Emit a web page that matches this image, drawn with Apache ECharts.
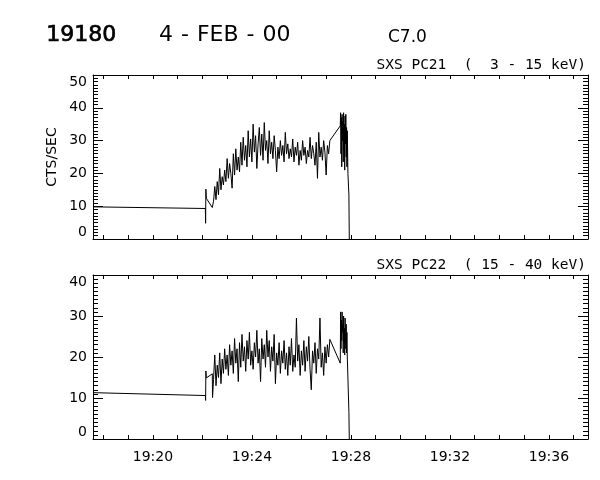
<!DOCTYPE html>
<html>
<head>
<meta charset="utf-8">
<script src="https://cdn.jsdelivr.net/npm/echarts@6/dist/echarts.min.js"></script>
<style>html,body{margin:0;padding:0;background:#fff}#c{width:600px;height:480px}</style>
</head>
<body>
<div id="c"></div>
<script>
// time in minutes after 19:00
const times = [17.58, 22.12, 22.13, 22.14, 22.16, 22.40, 22.41,
22.45,22.50,22.55,22.60,22.65,22.70,22.75,22.80,22.85,22.90,22.95,23.00,23.05,23.10,23.15,23.20,23.25,23.30,23.35,23.40,
23.45,23.50,23.55,23.60,23.65,23.70,23.75,23.80,23.85,23.90,23.95,24.00,24.05,24.10,24.15,24.20,24.25,24.30,24.35,24.40,
24.45,24.50,24.55,24.60,24.65,24.70,24.75,24.80,24.85,24.90,24.95,25.00,25.05,25.10,25.15,25.20,25.25,25.30,25.35,25.40,
25.45,25.50,25.55,25.60,25.65,25.70,25.75,25.80,25.85,25.90,25.95,26.00,26.05,26.10,26.15,26.20,26.25,26.30,26.35,26.40,
26.45,26.50,26.55,26.60,26.65,26.70,26.75,26.80,26.85,26.90,26.95,27.00,27.05,27.10,27.15,
27.570,27.585,27.600,27.615,27.630,27.645,27.660,27.675,27.690,27.705,27.720,27.735,27.750,27.765,27.780,27.795,27.810,27.825,27.840,27.855,
27.88, 27.92, 27.935];

const pc21 = [9.8, 9.3, 4.8, 15.2, 12.4, 9.6, 9.4,
11.5,16.0,12.0,17.5,13.5,21.5,15.0,19.0,16.5,21.0,17.5,24.5,18.5,23.0,20.0,15.5,26.0,19.5,27.5,21.0,
25.0,20.5,29.5,22.5,31.0,24.0,28.5,22.0,33.0,25.0,30.5,23.5,35.0,26.5,31.5,21.5,29.0,34.0,25.5,32.0,
24.0,35.5,27.0,30.0,23.0,33.0,26.0,29.5,24.5,31.5,27.0,20.5,28.0,24.5,30.0,25.5,28.5,23.5,32.5,26.0,
29.0,24.5,27.5,25.0,30.5,23.5,28.0,25.5,29.5,22.5,27.0,24.0,30.0,25.5,28.0,23.0,27.0,25.0,31.0,24.5,
28.5,26.0,22.5,29.5,18.5,32.5,25.0,28.0,24.0,30.0,26.5,19.5,28.5,26.0,30.0,
34.5,38.5,26.0,37.0,22.0,38.0,30.0,36.0,23.5,38.5,27.0,35.0,21.0,37.5,29.0,38.0,25.0,34.0,22.0,33.0,
20.0, 13.4, 0];

const pc22 = [11.3, 10.6, 9.4, 16.6, 14.9, 15.9, 10.1,
14.5,20.5,13.0,18.0,15.0,21.0,13.5,19.5,16.0,22.0,17.0,20.5,15.5,23.0,18.0,21.5,16.0,24.5,18.5,22.0,
14.0,23.5,17.5,25.5,19.0,22.5,16.5,24.0,19.5,26.0,18.0,21.5,17.0,23.5,20.0,26.5,18.5,22.0,14.0,24.5,
19.5,23.0,17.5,26.5,20.0,24.0,16.5,22.5,19.0,25.5,13.5,21.0,18.0,23.5,16.0,21.5,18.5,24.0,17.0,21.0,
15.5,22.5,18.0,24.5,16.5,20.5,17.5,29.5,19.0,23.0,15.5,21.5,18.0,24.0,16.5,22.5,19.0,25.0,17.0,12.0,
21.5,18.5,23.5,16.0,22.0,19.5,29.5,17.5,21.0,15.5,22.5,18.5,23.0,20.0,24.3,
18.5,31.0,22.0,29.0,24.0,31.0,26.0,28.0,21.0,30.0,23.5,27.0,20.5,29.5,25.0,22.0,28.0,21.0,26.0,20.0,
20.0, 6.5, 0];

const xTicks = [18,19,20,21,22,23,24,25,26,27,28,29,30,31,32,33,34,35,36,37];
const xLabels = [20,24,28,32,36];
const xMin = 17.58, xMax = 37.58;
const titleNum = '19180';
const titleDate = '4-FEB-00';
const titleClass = 'C7.0';
const sub1 = 'SXS PC21  (  3 - 15 keV)';
const sub2 = 'SXS PC22  ( 15 - 40 keV)';
const yName = 'CTS/SEC';

const chart = echarts.init(document.getElementById('c'), null, {renderer: 'canvas'});
const F = 'DejaVu Sans';
const black = '#000';

function xAx(grid, pos, labels) {
  return {
    type: 'value', gridIndex: grid, position: pos, min: xMin, max: xMax,
    axisLine: {show: true, onZero: false, lineStyle: {color: black, width: 1}},
    axisTick: {show: true, inside: true, length: 4, customValues: xTicks, lineStyle: {color: black}},
    axisLabel: labels ? {show: true, customValues: xLabels, color: black, fontFamily: F, fontSize: 14, margin: 11,
      formatter: v => '19:' + String(Math.round(v)).padStart(2, '0')} : {show: false},
    splitLine: {show: false}
  };
}
function yAx(grid, pos, max, labels) {
  return {
    type: 'value', gridIndex: grid, position: pos, min: 0, max: max, interval: 10,
    axisLine: {show: true, onZero: false, lineStyle: {color: black, width: 1}},
    axisTick: {show: true, inside: true, length: 10, lineStyle: {color: black}},
    minorTick: {show: true, splitNumber: 10, length: 5, lineStyle: {color: black}},
    axisLabel: labels ? {show: true, color: black, fontFamily: F, fontSize: 14, margin: 6,
      verticalAlignMinLabel: 'bottom', verticalAlignMaxLabel: 'top'} : {show: false},
    splitLine: {show: false}, minorSplitLine: {show: false}
  };
}

const d21 = times.map((t, i) => [t, pc21[i]]);
const d22 = times.map((t, i) => [t, pc22[i]]);

chart.setOption({
  animation: false,
  backgroundColor: '#fff',
  grid: [
    {left: 93, top: 75, width: 495, height: 164},
    {left: 93, top: 275, width: 495, height: 164}
  ],
  xAxis: [xAx(0, 'bottom', false), xAx(0, 'top', false), xAx(1, 'bottom', true), xAx(1, 'top', false)],
  yAxis: [yAx(0, 'left', 50, true), yAx(0, 'right', 50, false), yAx(1, 'left', 40, true), yAx(1, 'right', 40, false)],
  series: [
    {type: 'line', xAxisIndex: 0, yAxisIndex: 0, data: d21, showSymbol: false, symbol: 'none',
      lineStyle: {color: black, width: 1}, sampling: null, clip: true},
    {type: 'line', xAxisIndex: 2, yAxisIndex: 2, data: d22, showSymbol: false, symbol: 'none',
      lineStyle: {color: black, width: 1}, sampling: null, clip: true}
  ],
  graphic: [
    {type: 'text', left: 46, top: 24, style: {text: titleNum, font: '22px "DejaVu Sans"', fill: black, stroke: black, lineWidth: 0.7}},
    {type: 'text', left: 159, top: 24, style: {text: '4{d|-}FEB{d|-}00', font: '22px "DejaVu Sans"', fill: black,
      rich: {d: {fontSize: 22, fontFamily: F, padding: [0, 8]}}}},
    {type: 'text', left: 388, top: 29, style: {text: titleClass, font: '17px "DejaVu Sans"', fill: black}},
    {type: 'text', right: 14, top: 58, style: {text: sub1, font: '14.5px "DejaVu Sans Mono"', fill: black}},
    {type: 'text', right: 14, top: 258, style: {text: sub2, font: '14.5px "DejaVu Sans Mono"', fill: black}},
    {type: 'text', x: 52, y: 157, rotation: Math.PI / 2,
      style: {text: yName, x: 0, y: 0, font: '14px "DejaVu Sans"', fill: black, textAlign: 'center', textVerticalAlign: 'middle', align: 'center', verticalAlign: 'middle'}}
  ]
});
</script>
</body>
</html>
